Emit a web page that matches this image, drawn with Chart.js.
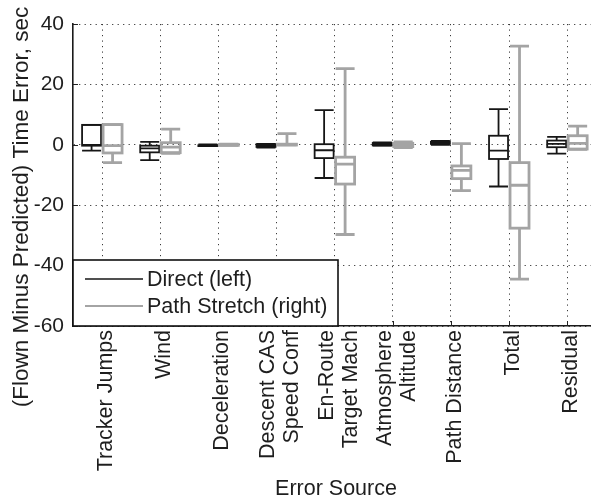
<!DOCTYPE html>
<html>
<head>
<meta charset="utf-8">
<title>Time Error by Error Source</title>
<style>
  html, body { margin: 0; padding: 0; background: #ffffff; overflow: hidden; }
  #wrap { width: 591px; height: 500px; }
</style>
<script src="https://cdn.jsdelivr.net/npm/chart.js@4.4.1/dist/chart.umd.min.js"></script>
</head>
<body>
<div id="wrap"><canvas id="chart" width="591" height="500"></canvas></div>
<script>
// Error sources along the x axis ("\n" splits a label onto two lines)
const categories = [
  'Tracker Jumps', 'Wind', 'Deceleration', 'Descent CAS\nSpeed Conf',
  'En-Route\nTarget Mach', 'Atmosphere\nAltitude', 'Path Distance', 'Total', 'Residual'
];
const yTickValues = [-60, -40, -20, 0, 20, 40];

// Direct (left) box-plot statistics, seconds
const directLow    = [-1.9, -5.1, -0.3, -0.9, -11.0, -0.3,  0.0, -13.8, -2.9];
const directQ1     = [-0.3, -2.5, -0.2, -0.7,  -4.4, -0.2,  0.3,  -4.7, -0.8];
const directMedian = [ 0.0, -1.2, -0.1, -0.3,  -1.8,  0.3,  0.7,  -1.9,  0.3];
const directQ3     = [ 6.6, -0.3,  0.0,  0.2,   0.2,  0.6,  1.0,   3.0,  1.4];
const directHigh   = [ 6.6,  1.0,  0.1,  0.3,  11.5,  0.8,  1.3,  11.8,  2.6];

// Path Stretch (right) box-plot statistics, seconds
const stretchLow    = [-5.9, -2.8, -0.2,  0.0, -29.7, -0.9, -15.2, -44.5, -1.5];
const stretchQ1     = [-2.7, -2.6, -0.1,  0.0, -13.0, -0.6, -11.2, -27.6, -1.4];
const stretchMedian = [-0.3, -0.8,  0.0,  0.0,  -6.4,  0.0,  -8.5, -13.4,  0.5];
const stretchQ3     = [ 6.7,  0.7,  0.1,  0.2,  -4.1,  0.5,  -7.0,  -5.9,  3.0];
const stretchHigh   = [ 6.7,  5.2,  0.2,  3.7,  25.2,  1.0,   0.4,  32.7,  6.2];

const FONT = "'Liberation Sans', Arial, Helvetica, sans-serif";
const TEXT = '#1e1e1e';

// each box is a floating bar spanning Q1..Q3 at its category position
function boxSpans(q1, q3) {
  return q1.map((v, i) => ({ x: i + 1, y: [v, q3[i]] }));
}

// outlines, whiskers, caps and medians, drawn from the bar elements
const boxPlotPlugin = {
  id: 'boxPlot',
  afterDatasetsDraw(chart) {
    const ctx = chart.ctx;
    const yScale = chart.scales.y;
    chart.data.datasets.forEach((ds, di) => {
      const meta = chart.getDatasetMeta(di);
      ctx.save();
      ctx.strokeStyle = ds.lineColor;
      ctx.lineWidth = ds.lineWidth;
      ctx.lineCap = 'butt';
      meta.data.forEach((el, i) => {
        const x = el.x;
        const half = el.width / 2;
        const top = Math.min(el.y, el.base);
        const bottom = Math.max(el.y, el.base);
        const yHigh = yScale.getPixelForValue(ds.stats.high[i]);
        const yLow = yScale.getPixelForValue(ds.stats.low[i]);
        const yMed = yScale.getPixelForValue(ds.stats.median[i]);
        ctx.beginPath();
        // whiskers
        ctx.moveTo(x, top); ctx.lineTo(x, yHigh);
        ctx.moveTo(x, bottom); ctx.lineTo(x, yLow);
        // caps
        ctx.moveTo(x - half, yHigh); ctx.lineTo(x + half, yHigh);
        ctx.moveTo(x - half, yLow); ctx.lineTo(x + half, yLow);
        // median
        ctx.moveTo(x - half, yMed); ctx.lineTo(x + half, yMed);
        ctx.stroke();
        ctx.strokeRect(x - half, top, half * 2, Math.max(bottom - top, 0.8));
      });
      ctx.restore();
    });
  },
  afterDraw(chart) {
    const ctx = chart.ctx;
    const area = chart.chartArea;
    const xScale = chart.scales.x;
    const yScale = chart.scales.y;

    ctx.save();
    // inward tick marks
    ctx.strokeStyle = '#222';
    ctx.lineWidth = 1;
    ctx.beginPath();
    yTickValues.forEach(v => {
      const y = Math.round(yScale.getPixelForValue(v)) + 0.5;
      ctx.moveTo(area.left, y); ctx.lineTo(area.left + 5, y);
    });
    categories.forEach((c, i) => {
      const x = Math.round(xScale.getPixelForValue(i + 1)) + 0.5;
      ctx.moveTo(x, area.bottom); ctx.lineTo(x, area.bottom - 5);
    });
    ctx.stroke();

    // rotated category labels
    ctx.fillStyle = TEXT;
    ctx.font = '21.5px ' + FONT;
    ctx.textAlign = 'right';
    ctx.textBaseline = 'middle';
    const lineH = 24;
    categories.forEach((c, i) => {
      const lines = c.split('\n');
      const cx = xScale.getPixelForValue(i + 1) + 4;
      lines.forEach((ln, j) => {
        const off = (j - (lines.length - 1) / 2) * lineH;
        ctx.save();
        ctx.translate(cx + off, area.bottom + 4);
        ctx.rotate(-Math.PI / 2);
        ctx.fillText(ln, 0, 0);
        ctx.restore();
      });
    });

    // axis titles
    ctx.textAlign = 'center';
    ctx.fillText('Error Source', 336, 489);
    ctx.save();
    ctx.font = '22.5px ' + FONT;
    ctx.translate(22, 207);
    ctx.rotate(-Math.PI / 2);
    ctx.fillText('(Flown Minus Predicted) Time Error, sec', 0, 0);
    ctx.restore();

    // legend in the lower-left corner of the plot
    const lx = area.left, ly = 260, lw = 265, lh = area.bottom - 260;
    ctx.fillStyle = '#ffffff';
    ctx.fillRect(lx, ly, lw, lh);
    ctx.strokeStyle = '#111';
    ctx.lineWidth = 1.6;
    ctx.strokeRect(lx, ly, lw, lh);
    ctx.font = '21.5px ' + FONT;
    ctx.textAlign = 'left';
    ctx.textBaseline = 'middle';
    chart.data.datasets.forEach((ds, di) => {
      const y = ly + 19 + di * 27;
      ctx.strokeStyle = ds.lineColor;
      ctx.lineWidth = ds.lineWidth * 0.8;
      ctx.beginPath();
      ctx.moveTo(lx + 12, y); ctx.lineTo(lx + 70, y);
      ctx.stroke();
      ctx.fillStyle = TEXT;
      ctx.fillText(ds.label, lx + 74, y + 1);
    });
    ctx.restore();
  }
};

const borderStyle = { display: true, color: '#1a1a1a', width: 1.6, dash: [1.2, 4.3] };

new Chart(document.getElementById('chart'), {
  type: 'bar',
  data: {
    datasets: [
      {
        label: 'Direct (left)',
        data: boxSpans(directQ1, directQ3),
        stats: { low: directLow, median: directMedian, high: directHigh },
        lineColor: '#161616',
        lineWidth: 1.8,
        backgroundColor: 'rgba(0,0,0,0)',
        borderWidth: 0
      },
      {
        label: 'Path Stretch (right)',
        data: boxSpans(stretchQ1, stretchQ3),
        stats: { low: stretchLow, median: stretchMedian, high: stretchHigh },
        lineColor: '#a4a4a4',
        lineWidth: 2.8,
        backgroundColor: 'rgba(0,0,0,0)',
        borderWidth: 0
      }
    ]
  },
  options: {
    responsive: false,
    animation: false,
    devicePixelRatio: 1,
    categoryPercentage: 0.722,
    barPercentage: 0.905,
    layout: { padding: { top: 24, right: 0, left: 0, bottom: 0 } },
    plugins: { legend: { display: false }, tooltip: { enabled: false } },
    scales: {
      x: {
        type: 'linear',
        offset: false,
        min: 0.5,
        max: 9.41,
        grid: { color: '#3a3a3a', lineWidth: 1, drawTicks: false, offset: false },
        border: borderStyle,
        ticks: { display: false },
        afterBuildTicks: s => { s.ticks = categories.map((c, i) => ({ value: i + 1 })); },
        afterFit: s => { s.height = 174; }
      },
      y: {
        min: -60,
        max: 40,
        grid: { color: '#3a3a3a', lineWidth: 1, drawTicks: false },
        border: borderStyle,
        ticks: {
          stepSize: 20,
          padding: 9,
          color: TEXT,
          font: { family: FONT, size: 21 }
        },
        afterBuildTicks: s => { s.ticks = yTickValues.map(v => ({ value: v })); },
        afterFit: s => { s.width = 73; }
      }
    }
  },
  plugins: [boxPlotPlugin]
});
</script>
</body>
</html>
